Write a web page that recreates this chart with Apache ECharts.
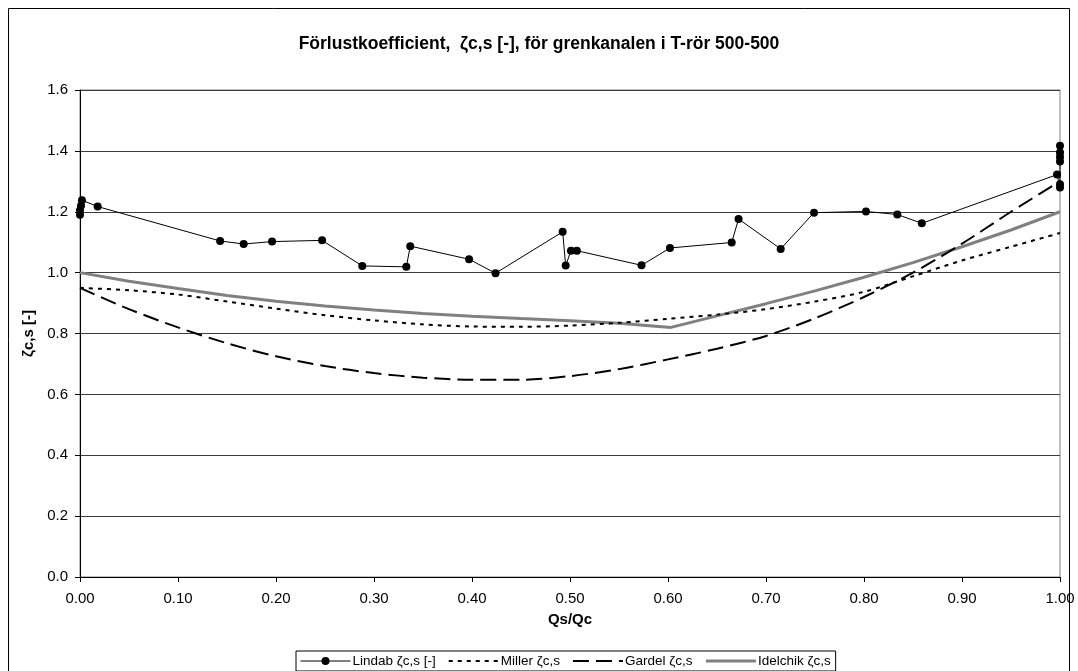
<!DOCTYPE html>
<html>
<head>
<meta charset="utf-8">
<script src="https://cdn.jsdelivr.net/npm/echarts@6/dist/echarts.min.js"></script>
<style>
  html, body { margin: 0; padding: 0; background: #fff; }
  #chart { width: 1078px; height: 671px; }
</style>
</head>
<body>
<div id="chart"></div>
<script>
// Measured loss coefficient (Lindab) as [Qs/Qc, ζc,s]
const lindabX = [0.000, 0.000, 0.001, 0.002, 0.018, 0.143, 0.167, 0.196, 0.247, 0.288, 0.333, 0.337, 0.397, 0.424,
                 0.4925, 0.4956, 0.501, 0.507, 0.573, 0.602, 0.665, 0.672, 0.715, 0.749, 0.802, 0.834, 0.859,
                 0.997, 1.000, 1.000, 1.000, 1.000, 1.000, 1.000];
const lindabY = [1.19, 1.205, 1.22, 1.238, 1.217, 1.104, 1.094, 1.102, 1.106, 1.022, 1.019, 1.087, 1.044, 0.998,
                 1.134, 1.023, 1.072, 1.072, 1.024, 1.081, 1.099, 1.176, 1.078, 1.197, 1.201, 1.191, 1.162,
                 1.322, 1.280, 1.290, 1.365, 1.380, 1.395, 1.417];

// Literature curves sampled along Qs/Qc
const curveX   = [0.00, 0.05, 0.10, 0.15, 0.20, 0.25, 0.30, 0.35, 0.40, 0.45, 0.50, 0.55, 0.60, 0.65, 0.70, 0.75, 0.80, 0.85, 0.90, 0.95, 1.00];
const millerY  = [0.950, 0.942, 0.928, 0.905, 0.882, 0.860, 0.843, 0.830, 0.823, 0.822, 0.826, 0.835, 0.848, 0.862, 0.880, 0.905, 0.937, 0.988, 1.040, 1.085, 1.130];
const gardelY  = [0.950, 0.880, 0.820, 0.768, 0.725, 0.693, 0.670, 0.655, 0.648, 0.648, 0.660, 0.683, 0.715, 0.750, 0.792, 0.850, 0.920, 1.000, 1.095, 1.200, 1.300];
const idelX    = [0.00, 0.05, 0.10, 0.15, 0.20, 0.25, 0.30, 0.35, 0.40, 0.45, 0.50, 0.55, 0.603, 0.65, 0.70, 0.75, 0.80, 0.85, 0.90, 0.95, 1.00];
const idelY    = [1.000, 0.972, 0.948, 0.925, 0.906, 0.890, 0.877, 0.866, 0.857, 0.849, 0.842, 0.834, 0.820, 0.858, 0.898, 0.940, 0.985, 1.033, 1.085, 1.140, 1.200];

const xTicks = { min: 0, max: 1, step: 0.1 };
const yTicks = { min: 0, max: 1.6, step: 0.2 };

const zip = (xs, ys) => xs.map((x, i) => [x, ys[i]]);
const font = 'Arial, "Liberation Sans", sans-serif';

const chart = echarts.init(document.getElementById('chart'), null, { renderer: 'canvas' });
chart.setOption({
  backgroundColor: '#fff',
  animation: false,
  title: {
    text: 'Förlustkoefficient,  ζc,s [-], för grenkanalen i T-rör 500-500',
    left: 'center',
    top: 30,
    textStyle: { fontFamily: font, fontSize: 17.5, fontWeight: 'bold', color: '#000' }
  },
  graphic: [{
    type: 'rect',
    shape: { x: 8.5, y: 8.5, width: 1061, height: 700 },
    style: { fill: null, stroke: '#000', lineWidth: 1 },
    silent: true
  }],
  grid: {
    left: 80, right: 18, top: 90, bottom: 94,
    show: true, borderColor: '#808080', borderWidth: 1, backgroundColor: 'transparent'
  },
  legend: {
    left: 296, top: 651,
    orient: 'horizontal',
    itemWidth: 50, itemHeight: 10, itemGap: 12,
    padding: [3, 5, 3, 4],
    borderColor: '#000', borderWidth: 1,
    textStyle: { fontFamily: font, fontSize: 13.5, color: '#000', padding: [0, 0, 0, -3] },
    data: [
      { name: 'Lindab ζc,s [-]', itemStyle: { color: '#000' }, lineStyle: { color: '#000', width: 1 } },
      { name: 'Miller ζc,s', itemStyle: { opacity: 0 }, lineStyle: { color: '#000', width: 2, type: [4, 5] } },
      { name: 'Gardel ζc,s', itemStyle: { opacity: 0 }, lineStyle: { color: '#000', width: 2, type: [16, 7] } },
      { name: 'Idelchik ζc,s', itemStyle: { opacity: 0 }, lineStyle: { color: '#808080', width: 3 } }
    ]
  },
  xAxis: {
    type: 'value',
    min: xTicks.min, max: xTicks.max, interval: xTicks.step,
    name: 'Qs/Qc',
    nameLocation: 'middle',
    nameGap: 35,
    nameTextStyle: { fontFamily: font, fontSize: 15, fontWeight: 'bold', color: '#000' },
    axisLine: { show: true, lineStyle: { color: '#000', width: 1 } },
    axisTick: { show: true, inside: false, length: 5, lineStyle: { color: '#000' } },
    axisLabel: { fontFamily: font, fontSize: 15, color: '#000', margin: 14, formatter: v => v.toFixed(2) },
    splitLine: { show: false }
  },
  yAxis: {
    type: 'value',
    min: yTicks.min, max: yTicks.max, interval: yTicks.step,
    name: 'ζc,s [-]',
    nameLocation: 'middle',
    nameGap: 40,
    nameRotate: 90,
    nameTextStyle: { fontFamily: font, fontSize: 15, fontWeight: 'bold', color: '#000' },
    axisLine: { show: true, lineStyle: { color: '#000', width: 1 } },
    axisTick: { show: true, inside: false, length: 5, lineStyle: { color: '#000' } },
    axisLabel: { fontFamily: font, fontSize: 15, color: '#000', margin: 12, formatter: v => v.toFixed(1) },
    splitLine: { show: true, lineStyle: { color: '#3c3c3c', width: 1 } }
  },
  series: [
    {
      name: 'Lindab ζc,s [-]',
      type: 'line',
      data: zip(lindabX, lindabY),
      symbol: 'circle', symbolSize: 8,
      itemStyle: { color: '#000' },
      lineStyle: { color: '#000', width: 1 },
      z: 5
    },
    {
      name: 'Miller ζc,s',
      type: 'line',
      data: zip(curveX, millerY),
      smooth: 0.3,
      showSymbol: false, symbol: 'none',
      itemStyle: { color: '#000' },
      lineStyle: { color: '#000', width: 2, type: [4, 5] },
      z: 3
    },
    {
      name: 'Gardel ζc,s',
      type: 'line',
      data: zip(curveX, gardelY),
      smooth: 0.3,
      showSymbol: false, symbol: 'none',
      itemStyle: { color: '#000' },
      lineStyle: { color: '#000', width: 2, type: [16, 7] },
      z: 3
    },
    {
      name: 'Idelchik ζc,s',
      type: 'line',
      data: zip(idelX, idelY),
      showSymbol: false, symbol: 'none',
      itemStyle: { color: '#808080' },
      lineStyle: { color: '#808080', width: 3 },
      z: 2
    }
  ]
});
</script>
</body>
</html>
